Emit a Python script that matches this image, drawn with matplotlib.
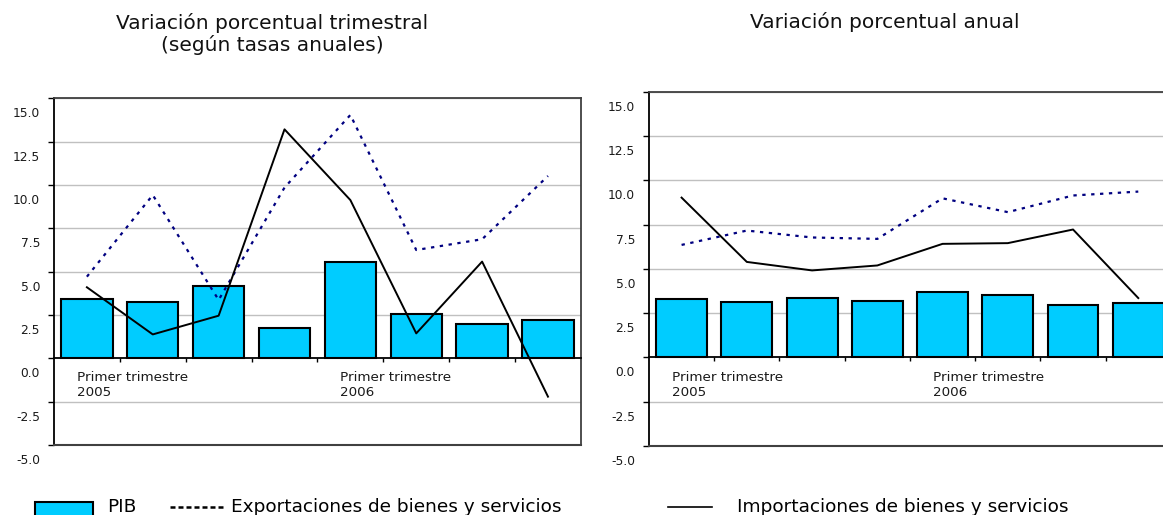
import numpy as np
import matplotlib
matplotlib.use("Agg")
import matplotlib.pyplot as plt
from matplotlib.transforms import ScaledTranslation
from matplotlib.patches import Rectangle
from matplotlib.lines import Line2D

# trimestres (8 por panel)
quarters = ["I-05", "II-05", "III-05", "IV-05", "I-06", "II-06", "III-06", "IV-06"]

# panel izquierdo: variacion trimestral (tasas anualizadas)
pib_trim = [3.40, 3.27, 4.19, 1.77, 5.58, 2.56, 1.96, 2.23]
exp_trim = [4.71, 9.42, 3.37, 9.85, 14.04, 6.25, 6.87, 10.52]
imp_trim = [4.10, 1.38, 2.46, 13.21, 9.13, 1.44, 5.58, -2.21]

# panel derecho: variacion anual
pib_anual = [3.29, 3.12, 3.36, 3.16, 3.70, 3.53, 2.95, 3.08]
exp_anual = [6.35, 7.16, 6.77, 6.69, 8.98, 8.20, 9.14, 9.36]
imp_anual = [9.02, 5.39, 4.91, 5.19, 6.41, 6.45, 7.22, 3.35]

yticks = [15.0, 12.5, 10.0, 7.5, 5.0, 2.5, 0.0, -2.5, -5.0]
year_labels = ["Primer trimestre\n2005", "Primer trimestre\n2006"]
year_pos = [0, 4]

BAR = "#00CCFF"
NAVY = "#000080"

fig = plt.figure(figsize=(11.63, 5.15), dpi=100)
ax1 = fig.add_axes([0.0464, 0.1359, 0.4531, 0.6732])
ax2 = fig.add_axes([0.558, 0.134, 0.4488, 0.688])


def panel(ax, pib, exp, imp):
    x = np.arange(len(quarters))
    ax.set_xlim(-0.5, len(quarters) - 0.5)
    ax.set_ylim(-5, 15)
    ax.set_yticks(yticks)
    ax.set_yticklabels([f"{v:.1f}" for v in yticks], fontsize=8.8, color="#1a1a1a")
    ax.tick_params(axis="y", length=4, width=1, pad=6)
    for v in yticks:
        if v != 0:
            ax.axhline(v, color="#c0c0c0", lw=1, zorder=0)
    ax.bar(x, pib, width=0.78, color=BAR, edgecolor="black", lw=1.5, zorder=2)
    ax.plot(x, exp, color=NAVY, lw=1.6, ls=(0, (1.5, 2.5)), zorder=3)
    ax.plot(x, imp, color="black", lw=1.4, zorder=3)

    # eje x sobre el cero, marcas entre trimestres
    ax.spines["bottom"].set_position(("data", 0))
    ax.spines["bottom"].set_linewidth(1.3)
    ax.set_xticks(x[:-1] + 0.5)
    ax.set_xticklabels([])
    ax.tick_params(axis="x", length=3, width=1, direction="out")
    ax.axhline(-5, color="#404040", lw=1.5, clip_on=False, zorder=4)
    ax.spines["left"].set_linewidth(1.3)
    for s in ("top", "right"):
        ax.spines[s].set_color("#404040")
        ax.spines[s].set_linewidth(1.3)

    for p, lab in zip(year_pos, year_labels):
        ax.text(p - 0.5 + 0.35, -0.75, lab, fontsize=9.7, va="top", ha="left",
                color="#1a1a1a", linespacing=1.2)

    # etiquetas del eje y desplazadas hacia abajo como en el original
    off = ScaledTranslation(0, -0.14, fig.dpi_scale_trans)
    for t in ax.yaxis.get_major_ticks():
        t.label1.set_transform(t.label1.get_transform() + off)


panel(ax1, pib_trim, exp_trim, imp_trim)
panel(ax2, pib_anual, exp_anual, imp_anual)

fig.text(272 / 1163, 1 - 34 / 515, "Variación porcentual trimestral\n(según tasas anuales)",
         ha="center", va="center", fontsize=14.5, linespacing=1.1, color="#111111")
fig.text(885 / 1163, 1 - 22 / 515, "Variación porcentual anual",
         ha="center", va="center", fontsize=14.5, color="#111111")

# leyenda manual en la parte inferior
ly = 1 - 507 / 515
fig.patches.append(Rectangle((35 / 1163, 1 - 530 / 515), 58 / 1163, 28 / 515,
                             transform=fig.transFigure, facecolor=BAR,
                             edgecolor="black", lw=1.5))
fig.text(107 / 1163, ly, "PIB", fontsize=13.3, va="center", ha="left")
fig.lines.append(Line2D([170 / 1163, 223 / 1163], [ly, ly], transform=fig.transFigure,
                        color="black", lw=1.8, ls=(0, (2, 1.2))))
fig.text(231 / 1163, ly, "Exportaciones de bienes y servicios", fontsize=13.3,
         va="center", ha="left")
fig.lines.append(Line2D([668 / 1163, 712 / 1163], [ly, ly], transform=fig.transFigure,
                        color="black", lw=1.2))
fig.text(737 / 1163, ly, "Importaciones de bienes y servicios", fontsize=13.3,
         va="center", ha="left")

fig.savefig("out.png", dpi=100)
